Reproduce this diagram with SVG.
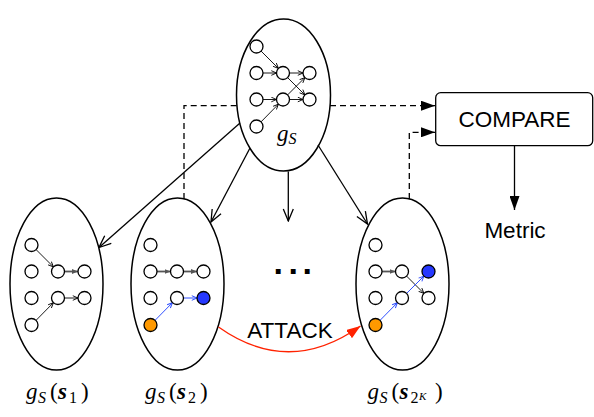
<svg xmlns="http://www.w3.org/2000/svg" width="594" height="417" viewBox="0 0 594 417">
<style>
.ell{fill:#fff;stroke:#000;stroke-width:1.5}
.n{fill:#fff;stroke:#000;stroke-width:1.3}
.nb{fill:#2638ff;stroke:#000;stroke-width:1.3}
.no{fill:#ff9900;stroke:#000;stroke-width:1.3}
.ek{fill:none;stroke:#000;stroke-width:0.9;marker-end:url(#mk)}
.eg{fill:none;stroke:#555;stroke-width:1.8;marker-end:url(#mg)}
.eb{fill:none;stroke:#3050ff;stroke-width:1;marker-end:url(#mb)}
.con{fill:none;stroke:#000;stroke-width:1.3}
.big{marker-end:url(#mbig)}
.dash{fill:none;stroke:#000;stroke-width:1.3;stroke-dasharray:6 4}
.sans{font-family:"Liberation Sans",Arial,sans-serif;font-size:22.5px;fill:#000}
.math{font-family:"Liberation Serif","Times New Roman",serif;fill:#000}
.it{font-style:italic}
.bi{font-style:italic;font-weight:bold}
</style>
<defs>
<marker id="mk" viewBox="0 0 6 6" markerWidth="6" markerHeight="6" markerUnits="userSpaceOnUse" refX="5.6" refY="3" orient="auto"><path d="M0.4,0.7 L5.6,3 L0.4,5.3" fill="none" stroke="#000" stroke-width="0.9"/></marker>
<marker id="mg" viewBox="0 0 6 6" markerWidth="6" markerHeight="6" markerUnits="userSpaceOnUse" refX="6" refY="3" orient="auto"><path d="M0,0.6 L6,3 L0,5.4 z" fill="#555"/></marker>
<marker id="mb" viewBox="0 0 6 6" markerWidth="6" markerHeight="6" markerUnits="userSpaceOnUse" refX="5.6" refY="3" orient="auto"><path d="M0.4,0.7 L5.6,3 L0.4,5.3" fill="none" stroke="#3050ff" stroke-width="1"/></marker>
<marker id="mbig" viewBox="0 0 14 12" markerWidth="14" markerHeight="12" markerUnits="userSpaceOnUse" refX="13" refY="6" orient="auto"><path d="M1,1 L13,6 L1,11" fill="none" stroke="#000" stroke-width="1.3"/></marker>
<marker id="mtri" viewBox="0 0 14 10" markerWidth="14" markerHeight="10" markerUnits="userSpaceOnUse" refX="14" refY="5" orient="auto"><path d="M0,0 L14,5 L0,10 z" fill="#000"/></marker>
<marker id="mred" viewBox="0 0 14 10" markerWidth="14" markerHeight="10" markerUnits="userSpaceOnUse" refX="14" refY="5" orient="auto"><path d="M0,0 L14,5 L0,10 z" fill="#ff2200"/></marker>
</defs>

<g id="gS-top">
<ellipse class="ell" cx="283.5" cy="95" rx="47" ry="76"/>
<g transform="translate(256.5,46.5)">
<path class="ek" d="M4.6,4.6 L21.9,21.9"/>
<path class="ek" d="M6.5,26.5 L20,26.5"/>
<path class="ek" d="M33,26.5 L46.5,26.5"/>
<path class="ek" d="M31.1,31.1 L48.4,48.4"/>
<path class="ek" d="M6.5,53 L20,53"/>
<path class="ek" d="M31.1,48.4 L48.4,31.1"/>
<path class="ek" d="M33,53 L46.5,53"/>
<path class="ek" d="M4.6,75.3 L21.9,57.7"/>
<circle class="n" cx="0" cy="0" r="6.5"/>
<circle class="n" cx="0" cy="26.5" r="6.5"/>
<circle class="n" cx="26.5" cy="26.5" r="6.5"/>
<circle class="n" cx="53" cy="26.5" r="6.5"/>
<circle class="n" cx="0" cy="53" r="6.5"/>
<circle class="n" cx="26.5" cy="53" r="6.5"/>
<circle class="n" cx="53" cy="53" r="6.5"/>
<circle class="n" cx="0" cy="80" r="6.5"/>
</g>
<text class="math it" font-size="23" x="277" y="140.5">g</text>
<text class="math it" font-size="16" x="288.5" y="143.5">S</text>
</g>

<g id="gS-s1">
<ellipse class="ell" cx="56.5" cy="284" rx="46.5" ry="86"/>
<g transform="translate(31.5,245)">
<path class="ek" d="M4.6,4.6 L21.9,21.9"/>
<path class="eg" d="M33,26.5 L46.5,26.5"/>
<path class="ek" d="M33,53 L46.5,53"/>
<path class="ek" d="M4.6,75.3 L21.9,57.7"/>
<circle class="n" cx="0" cy="0" r="6.5"/>
<circle class="n" cx="0" cy="26.5" r="6.5"/>
<circle class="n" cx="26.5" cy="26.5" r="6.5"/>
<circle class="n" cx="53" cy="26.5" r="6.5"/>
<circle class="n" cx="0" cy="53" r="6.5"/>
<circle class="n" cx="26.5" cy="53" r="6.5"/>
<circle class="n" cx="53" cy="53" r="6.5"/>
<circle class="n" cx="0" cy="80" r="6.5"/>
</g>
<text class="math" font-size="23"><tspan class="it" x="26" y="399">g</tspan><tspan class="it" font-size="16" x="38" y="403">S</tspan><tspan x="50" y="399">(</tspan><tspan class="bi" x="58" y="399">s</tspan><tspan font-size="16" x="69" y="403">1</tspan><tspan x="81" y="399">)</tspan></text>
</g>

<g id="gS-s2">
<ellipse class="ell" cx="177.5" cy="284" rx="46.5" ry="86"/>
<g transform="translate(150.5,245)">
<path class="eg" d="M6.5,26.5 L20,26.5"/>
<path class="eg" d="M33,26.5 L46.5,26.5"/>
<path class="eb" d="M33,53 L46.5,53"/>
<path class="eb" d="M4.6,75.3 L21.9,57.7"/>
<circle class="n" cx="0" cy="0" r="6.5"/>
<circle class="n" cx="0" cy="26.5" r="6.5"/>
<circle class="n" cx="26.5" cy="26.5" r="6.5"/>
<circle class="n" cx="53" cy="26.5" r="6.5"/>
<circle class="n" cx="0" cy="53" r="6.5"/>
<circle class="n" cx="26.5" cy="53" r="6.5"/>
<circle class="nb" cx="53" cy="53" r="6.5"/>
<circle class="no" cx="0" cy="80" r="6.5"/>
</g>
<text class="math" font-size="23"><tspan class="it" x="145" y="399">g</tspan><tspan class="it" font-size="16" x="157" y="403">S</tspan><tspan x="169" y="399">(</tspan><tspan class="bi" x="177" y="399">s</tspan><tspan font-size="16" x="188" y="403">2</tspan><tspan x="200" y="399">)</tspan></text>
</g>

<g id="gS-s2K">
<ellipse class="ell" cx="402.5" cy="284" rx="46.5" ry="86"/>
<g transform="translate(375.5,245)">
<path class="eg" d="M6.5,26.5 L20,26.5"/>
<path class="ek" d="M31.1,31.1 L48.4,48.4"/>
<path class="eb" d="M4.6,75.3 L21.9,57.7"/>
<path class="eb" d="M31.1,48.4 L48.4,31.1"/>
<circle class="n" cx="0" cy="0" r="6.5"/>
<circle class="n" cx="0" cy="26.5" r="6.5"/>
<circle class="n" cx="26.5" cy="26.5" r="6.5"/>
<circle class="nb" cx="53" cy="26.5" r="6.5"/>
<circle class="n" cx="0" cy="53" r="6.5"/>
<circle class="n" cx="26.5" cy="53" r="6.5"/>
<circle class="n" cx="53" cy="53" r="6.5"/>
<circle class="no" cx="0" cy="80" r="6.5"/>
</g>
<text class="math" font-size="23"><tspan class="it" x="367.5" y="399">g</tspan><tspan class="it" font-size="16" x="379.5" y="403">S</tspan><tspan x="391.5" y="399">(</tspan><tspan class="bi" x="399.5" y="399">s</tspan><tspan font-size="16" x="410.5" y="403">2</tspan><tspan class="it" font-size="11" x="419" y="400">K</tspan><tspan x="435" y="399">)</tspan></text>
</g>

<g id="compare">
<rect x="435.7" y="92.7" width="157" height="53" rx="5" fill="#fff" stroke="#000" stroke-width="1.3"/>
<text class="sans" x="514.5" y="126.7" text-anchor="middle">COMPARE</text>
</g>

<g id="metric">
<text class="sans" x="515" y="238.3" text-anchor="middle">Metric</text>
</g>

<g id="ellipsis">
<text font-family="Liberation Sans,Arial,sans-serif" font-weight="bold" font-size="34" x="273.6 288.6 302.6" y="274">...</text>
</g>

<g id="connectors">
<path class="con big" d="M240,123 L99,247.5"/>
<path class="con big" d="M250,148 L211,222"/>
<path class="con big" d="M288.3,171.5 L288.3,221"/>
<path class="con big" d="M318,145 L367.5,224"/>
<path class="dash" d="M184,199 V105.7 H237"/>
<path class="dash" d="M330,105.7 H435" marker-end="url(#mtri)"/>
<path class="dash" d="M409.3,199 V132.3 H435" marker-end="url(#mtri)"/>
<path class="con" d="M514.5,146 V210" marker-end="url(#mtri)"/>
<path d="M218.5,327 Q289,377 360.5,326" fill="none" stroke="#ff2200" stroke-width="1.3" marker-end="url(#mred)"/>
<text class="sans" x="290" y="338.3" text-anchor="middle">ATTACK</text>
</g>
</svg>
